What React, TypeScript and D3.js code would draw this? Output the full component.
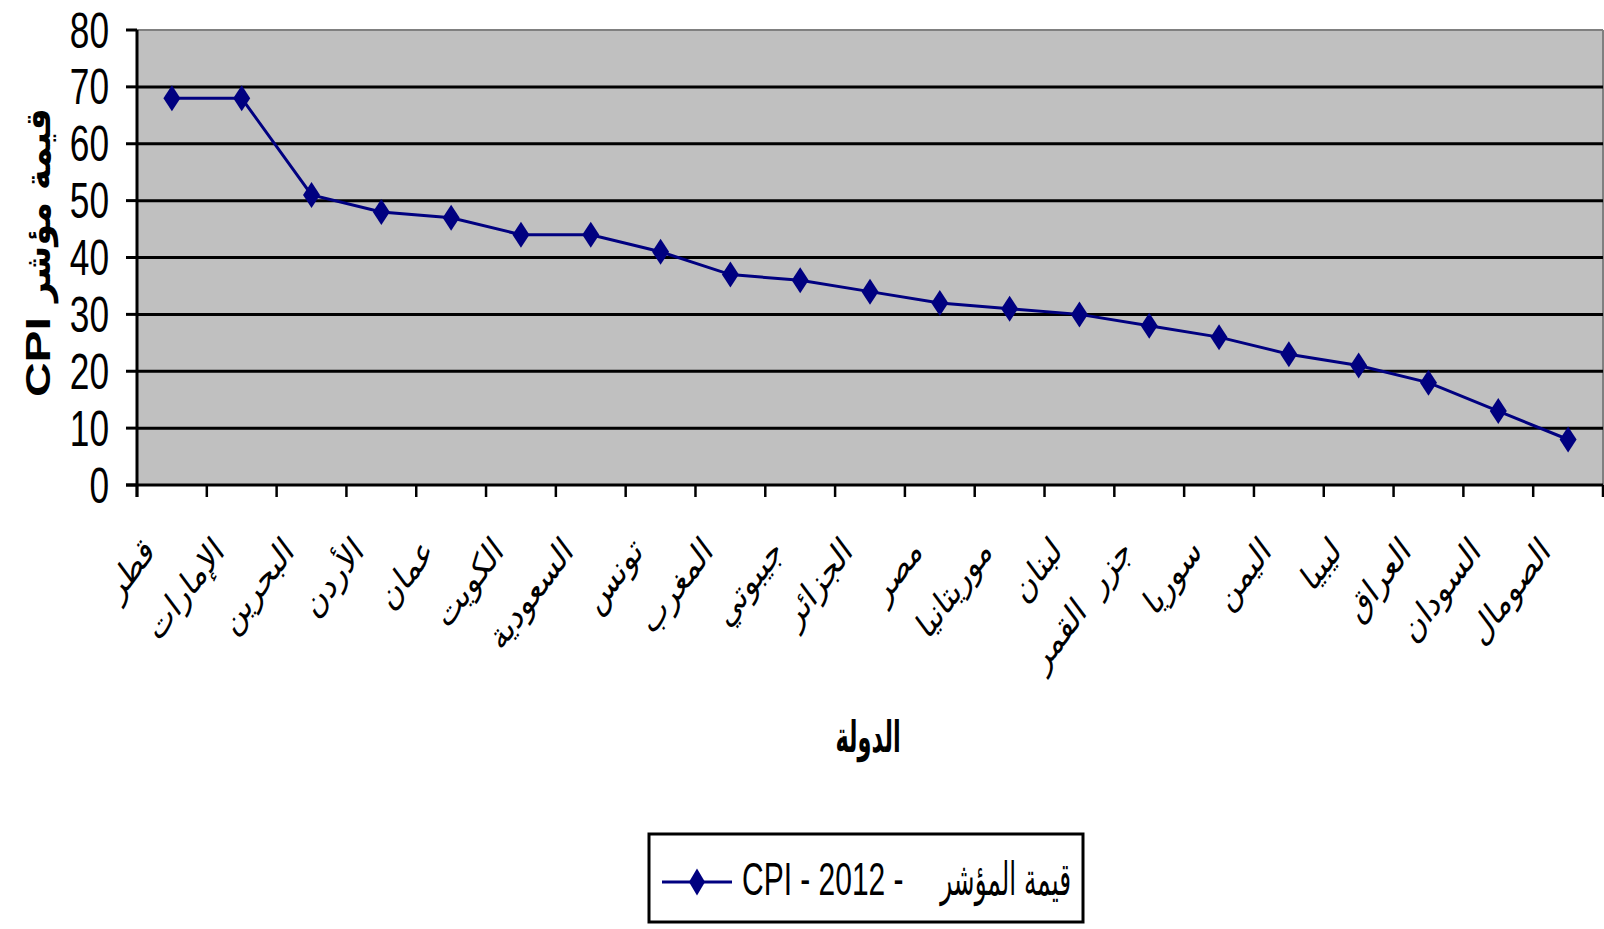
import React from "react";
import * as d3 from "d3";

const categories = ["قطر","الإمارات","البحرين","الأردن","عمان","الكويت","السعودية","تونس","المغرب","جيبوتي","الجزائر","مصر","موريتانيا","لبنان","جزر  القمر","سوريا","اليمن","ليبيا","العراق","السودان","الصومال"];
const cpi2012 = [68,68,51,48,47,44,44,41,37,36,34,32,31,30,28,26,23,21,18,13,8];
const yTicks = [0,10,20,30,40,50,60,70,80];
const seriesNameParts = ["CPI - 2012 -", "قيمة المؤشر"];
const yTitleParts = ["CPI", "قيمة مؤشر"];
const xTitle = "الدولة";

const W = 1604, H = 929;
const L = 137, R = 1603, T = 30, B = 485;
const SANS = "'Liberation Sans', 'DejaVu Sans', sans-serif";
const ARAB = "'DejaVu Sans', 'Liberation Sans', sans-serif";
const NAVY = "#000080";

function diamond(cx: number, cy: number, w: number, h: number) {
  return `M${cx},${cy - h / 2}L${cx + w / 2},${cy}L${cx},${cy + h / 2}L${cx - w / 2},${cy}Z`;
}

export default function App() {
  const x = d3.scaleBand<string>().domain(categories).range([L, R]).padding(0);
  const y = d3.scaleLinear().domain([0, 80]).range([B, T]);
  const cx = (c: string) => (x(c) as number) + x.bandwidth() / 2;
  const line = d3.line<number>().x((_, i) => cx(categories[i])).y((d) => y(d));
  const bounds = categories.map((c) => x(c) as number).concat([R]);

  return (
    <svg width={W} height={H} style={{ position: "absolute", left: 0, top: 0, background: "#fff" }}>
      <rect x={L} y={T} width={R - L} height={B - T} fill="#C0C0C0" />
      <line x1={L} x2={R} y1={T} y2={T} stroke="#808080" strokeWidth={2} />
      <line x1={R} x2={R} y1={T} y2={B} stroke="#808080" strokeWidth={2} />
      {yTicks.filter((v) => v > 0 && v < 80).map((v) => (
        <line key={"g" + v} x1={L} x2={R} y1={y(v)} y2={y(v)} stroke="#000" strokeWidth={3} />
      ))}
      {yTicks.map((v) => (
        <line key={"t" + v} x1={L - 11} x2={L} y1={y(v)} y2={y(v)} stroke="#000" strokeWidth={3} />
      ))}
      {yTicks.map((v) => (
        <g key={"l" + v} transform={`translate(109,${y(v) + 17.5}) scale(0.82,1.14)`}>
          <text textAnchor="end" fontFamily={SANS} fontSize={43} fill="#000">{v}</text>
        </g>
      ))}
      <line x1={L} x2={L} y1={T} y2={B + 12} stroke="#000" strokeWidth={3} />
      <line x1={L - 11} x2={R} y1={B} y2={B} stroke="#000" strokeWidth={3} />
      {bounds.map((bx, i) => (
        <line key={"xt" + i} x1={bx} x2={bx} y1={B} y2={B + 12} stroke="#000" strokeWidth={2.5} />
      ))}
      {categories.map((c) => (
        <g key={"xl" + c} transform={`translate(${cx(c) - 16},${553}) scale(1,1.34) rotate(-45)`}>
          <text textAnchor="end" fontFamily={ARAB} fontSize={28} fill="#000" style={{ whiteSpace: "pre" }}>{c}</text>
        </g>
      ))}
      <path d={line(cpi2012) || ""} fill="none" stroke={NAVY} strokeWidth={3} />
      {cpi2012.map((v, i) => (
        <path key={"m" + i} d={diamond(cx(categories[i]), y(v), 17, 26)} fill={NAVY} />
      ))}
      <g transform={`translate(50,397) scale(1,1.37) rotate(-90)`}>
        <text textAnchor="start" fontFamily={SANS} fontWeight="bold" fontSize={35} fill="#000">{yTitleParts[0]}</text>
      </g>
      <g transform={`translate(50,302) rotate(-90)`}>
        <text textAnchor="start" fontFamily={ARAB} fontWeight="bold" fontSize={35} fill="#000">{yTitleParts[1]}</text>
      </g>
      <g transform={`translate(868,752) scale(0.75,1.45)`}>
        <text textAnchor="middle" fontFamily={ARAB} fontWeight="bold" fontSize={30} fill="#000">{xTitle}</text>
      </g>
      <rect x={649} y={834} width={434} height={88} fill="#fff" stroke="#000" strokeWidth={3} />
      <line x1={662} x2={732} y1={882} y2={882} stroke={NAVY} strokeWidth={3} />
      <path d={diamond(697, 882, 16, 27)} fill={NAVY} />
      <g transform={`translate(742,895) scale(0.81,1.24)`}>
        <text fontFamily={SANS} fontSize={37} fill="#000">{seriesNameParts[0]}</text>
      </g>
      <g transform={`translate(1071,895) scale(0.67,1.24)`}>
        <text textAnchor="end" fontFamily={ARAB} fontSize={37} fill="#000">{seriesNameParts[1]}</text>
      </g>
    </svg>
  );
}
